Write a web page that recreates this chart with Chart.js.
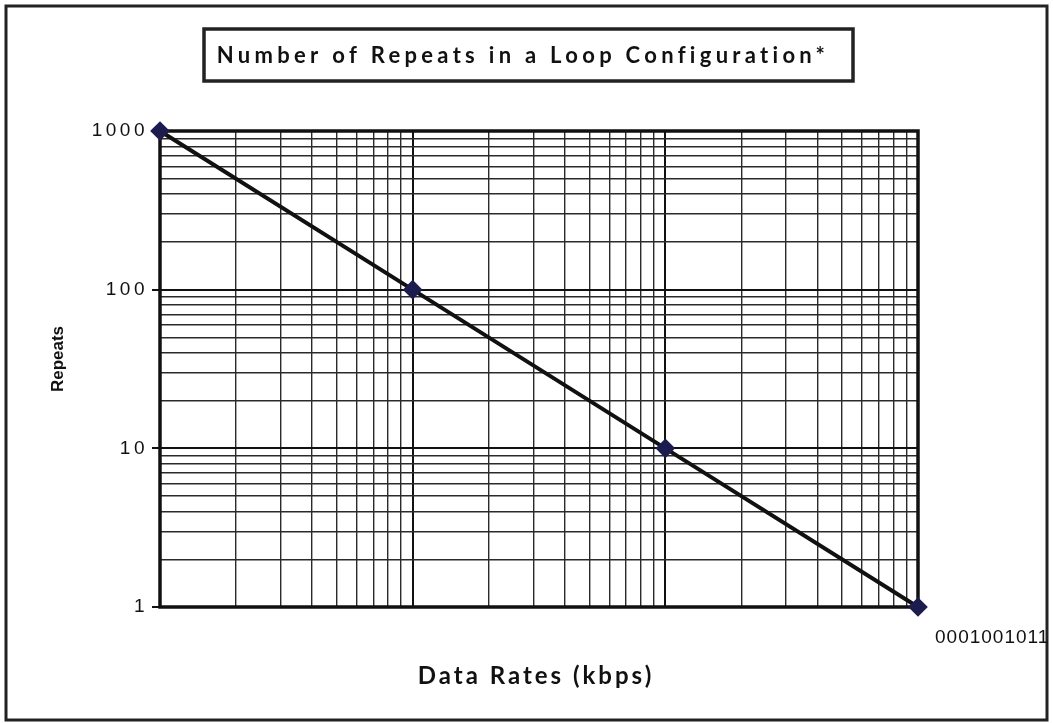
<!DOCTYPE html>
<html>
<head>
<meta charset="utf-8">
<script src="https://cdn.jsdelivr.net/npm/chart.js@4"></script>
<style>
  html, body { margin: 0; padding: 0; background: #fff; }
  canvas { display: block; }
</style>
</head>
<body>
<canvas id="myChart" width="1053" height="723"></canvas>
<script>
// data (log-log)
const dataRates = [1, 10, 100, 1000]
const repeats = [1000, 100, 10, 1]
const gridValues = [1, 2, 3, 4, 5, 6, 7, 8, 9, 10, 20, 30, 40, 50, 60, 70, 80, 90,
                    100, 200, 300, 400, 500, 600, 700, 800, 900, 1000]
const yTickLabels = ['1', '10', '100', '1000']
const xTickText = '0001001011'
const chartTitle = 'Number of Repeats in a Loop Configuration*'
const xTitle = 'Data Rates (kbps)'
const yTitle = 'Repeats'

function isDecade(v) {
  return yTickLabels.indexOf(String(v)) >= 0
}

const textPlugin = {
  id: 'textPlugin',
  beforeDraw(chart) {
    const ctx = chart.ctx
    ctx.fillStyle = '#fff'
    ctx.fillRect(0, 0, chart.width, chart.height)
    ctx.letterSpacing = '3.5px'
  },
  beforeDatasetsDraw(chart) {
    const ctx = chart.ctx
    const a = chart.chartArea
    ctx.letterSpacing = '0px'
    ctx.save()
    ctx.strokeStyle = '#111'
    ctx.lineWidth = 3.5
    ctx.strokeRect(a.left, a.top, a.right - a.left, a.bottom - a.top)
    ctx.restore()
  },
  afterDraw(chart) {
    const ctx = chart.ctx
    const a = chart.chartArea
    const xs = chart.scales.x
    ctx.save()
    // outer frame
    ctx.strokeStyle = '#222'
    ctx.lineWidth = 3
    ctx.strokeRect(6, 6, 1041, 714)
    // title box
    ctx.lineWidth = 3.5
    ctx.strokeRect(204, 29, 649, 52)
    ctx.fillStyle = '#111'
    ctx.textAlign = 'center'
    ctx.textBaseline = 'alphabetic'
    ctx.font = 'bold 22px Lato'
    ctx.letterSpacing = '4.3px'
    ctx.fillText(chartTitle, 523, 63)
    // x axis title
    ctx.font = 'bold 24px Lato'
    ctx.letterSpacing = '3px'
    ctx.fillText(xTitle, (a.left + a.right) / 2 - 3, 684)
    // x tick text
    ctx.textAlign = 'left'
    ctx.font = '19px "Liberation Sans"'
    ctx.letterSpacing = '1px'
    ctx.fillText(xTickText, xs.getPixelForValue(1000) + 17, 643)
    // y axis title
    ctx.letterSpacing = '0px'
    ctx.translate(63, (a.top + a.bottom) / 2 - 10)
    ctx.rotate(-Math.PI / 2)
    ctx.textAlign = 'center'
    ctx.font = 'bold 17px "Liberation Sans"'
    ctx.fillText(yTitle, 0, 0)
    ctx.restore()
  }
}

new Chart(document.getElementById('myChart'), {
  type: 'line',
  data: {
    labels: dataRates,
    datasets: [{
      label: 'Repeats',
      data: dataRates.map((x, i) => ({x: x, y: repeats[i]})),
      borderColor: '#111',
      borderWidth: 4,
      pointStyle: 'rectRot',
      pointRadius: 7,
      pointBackgroundColor: '#1c1c4e',
      pointBorderColor: '#1c1c4e',
      clip: false,
      tension: 0
    }]
  },
  options: {
    responsive: false,
    animation: false,
    events: [],
    layout: { padding: { top: 131, right: 135, bottom: 116, left: 0 } },
    plugins: { legend: { display: false }, title: { display: false }, tooltip: { enabled: false } },
    scales: {
      x: {
        type: 'logarithmic',
        min: 1, max: 1000,
        afterBuildTicks: (s) => { s.ticks = gridValues.map(v => ({value: v})) },
        afterFit: (s) => { s.height = 0 },
        ticks: { display: false, autoSkip: false },
        grid: {
          drawTicks: false,
          color: (c) => isDecade(c.tick && c.tick.value) ? '#111' : '#2a2a2a',
          lineWidth: (c) => isDecade(c.tick && c.tick.value) ? 2 : 1.4
        },
        border: { display: false }
      },
      y: {
        type: 'logarithmic',
        min: 1, max: 1000,
        afterBuildTicks: (s) => { s.ticks = gridValues.map(v => ({value: v})) },
        afterFit: (s) => { s.width = 160 },
        ticks: {
          autoSkip: false,
          padding: 4,
          color: '#111',
          font: { family: '"Liberation Sans"', size: 19 },
          callback: (v) => isDecade(v) ? String(v) : ''
        },
        grid: {
          tickLength: 8,
          color: (c) => isDecade(c.tick && c.tick.value) ? '#111' : '#2a2a2a',
          tickColor: (c) => isDecade(c.tick && c.tick.value) ? '#111' : 'rgba(0,0,0,0)',
          lineWidth: (c) => isDecade(c.tick && c.tick.value) ? 2 : 1.4
        },
        border: { display: false }
      }
    }
  },
  plugins: [textPlugin]
})
</script>
</body>
</html>
